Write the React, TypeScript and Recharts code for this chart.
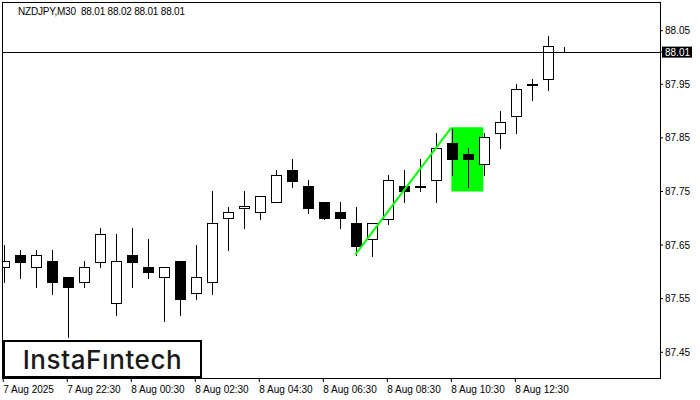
import React from "react";
import {
  ComposedChart,
  Bar,
  XAxis,
  YAxis,
  ReferenceLine,
  ReferenceArea,
} from "recharts";

// NZDJPY M30 candles, oldest first (7 Aug 20:30 .. 8 Aug 14:00)
const openPrices = [
  87.61, 87.632, 87.61, 87.62, 87.59, 87.581, 87.619, 87.541, 87.632, 87.61,
  87.59, 87.62, 87.56, 87.581, 87.7, 87.72, 87.711, 87.73, 87.79, 87.76,
  87.73, 87.711, 87.691, 87.661, 87.699, 87.76, 87.759, 87.771, 87.84, 87.82,
  87.801, 87.86, 87.89, 87.949, 87.959, 88.01,
];
const highPrices = [
  87.65, 87.641, 87.641, 87.641, 87.59, 87.62, 87.681, 87.67, 87.681, 87.661,
  87.61, 87.62, 87.65, 87.751, 87.721, 87.751, 87.741, 87.79, 87.811, 87.771,
  87.73, 87.73, 87.721, 87.691, 87.781, 87.79, 87.811, 87.86, 87.867, 87.831,
  87.86, 87.9, 87.95, 87.959, 88.04, 88.02,
];
const lowPrices = [
  87.581, 87.589, 87.571, 87.559, 87.479, 87.571, 87.61, 87.52, 87.571, 87.589,
  87.509, 87.52, 87.55, 87.559, 87.64, 87.681, 87.699, 87.73, 87.759, 87.71,
  87.699, 87.681, 87.632, 87.63, 87.69, 87.73, 87.75, 87.73, 87.78, 87.759,
  87.78, 87.831, 87.86, 87.92, 87.94, 88.01,
];
const closePrices = [
  87.62, 87.619, 87.631, 87.581, 87.571, 87.61, 87.67, 87.62, 87.619, 87.6,
  87.61, 87.55, 87.59, 87.691, 87.711, 87.722, 87.741, 87.78, 87.77, 87.72,
  87.7, 87.7, 87.649, 87.691, 87.771, 87.75, 87.76, 87.831, 87.81, 87.81,
  87.851, 87.88, 87.941, 87.95, 88.021, 88.01,
];

const timeTickIndex = [0, 4, 8, 12, 16, 20, 24, 28, 32];
const timeTickLabels = [
  "7 Aug 2025",
  "7 Aug 22:30",
  "8 Aug 00:30",
  "8 Aug 02:30",
  "8 Aug 04:30",
  "8 Aug 06:30",
  "8 Aug 08:30",
  "8 Aug 10:30",
  "8 Aug 12:30",
];
const priceTicks = [87.45, 87.55, 87.65, 87.75, 87.85, 87.95, 88.05];
const lastPrice = 88.01;
const titleText = "NZDJPY,M30  88.01 88.02 88.01 88.01";

// flag pattern: pole from candle 22 low to candle 28 high, flag box 28..30
const poleStart = { index: 22, price: 87.632 };
const poleEnd = { index: 28, price: 87.869 };
const flagBox = { from: 28, to: 30, low: 87.75, high: 87.87 };

const data = openPrices.map((o, i) => ({
  k: i,
  open: o,
  high: highPrices[i],
  low: lowPrices[i],
  close: closePrices[i],
}));

const FONT = "'Liberation Sans', Arial, sans-serif";

function Candle(props: any) {
  const { x, y, width, height, payload } = props;
  if (x == null || y == null) return null;
  const { open, close, high, low } = payload;
  const h = Math.abs(height);
  const top = Math.min(y, y + height);
  const per = high === low ? 0 : h / (high - low);
  const py = (v: number) => top + (high - v) * per;
  const cx = Math.round(x + width / 2) + 0.5;
  const bTop = Math.round(py(Math.max(open, close))) + 0.5;
  const bBot = Math.round(py(Math.min(open, close))) + 0.5;
  const up = close >= open;
  return (
    <g shapeRendering="crispEdges">
      <line x1={cx} x2={cx} y1={Math.round(top)} y2={Math.round(top + h) + 1} stroke="#000" strokeWidth={1} />
      {bBot - bTop < 1 ? (
        <line x1={cx - 5} x2={cx + 5} y1={bTop} y2={bTop} stroke="#000" strokeWidth={1} />
      ) : (
        <rect
          x={cx - 5}
          y={bTop}
          width={10}
          height={bBot - bTop}
          fill={up ? "#fff" : "#000"}
          stroke="#000"
          strokeWidth={1}
        />
      )}
    </g>
  );
}

function TimeTick(props: any) {
  const { x, y, payload } = props;
  const label = timeTickLabels[timeTickIndex.indexOf(payload.value)];
  return (
    <text x={x} y={y + 8.5} fontSize={10} fontFamily={FONT} fill="#000" textAnchor="start">
      {label}
    </text>
  );
}

function PriceTick(props: any) {
  const { x, y, payload } = props;
  if (payload.value === lastPrice) {
    return (
      <g>
        <rect x={x - 3} y={y - 5.5} width={30} height={11} fill="#000" />
        <text x={x} y={y + 3.5} fontSize={10} fontFamily={FONT} fill="#fff" textAnchor="start">
          {payload.value.toFixed(2)}
        </text>
      </g>
    );
  }
  return (
    <text x={x} y={y + 3.5} fontSize={10} fontFamily={FONT} fill="#000" textAnchor="start">
      {payload.value.toFixed(2)}
    </text>
  );
}

export default function App() {
  return (
    <div
      style={{
        position: "absolute",
        left: 0,
        top: 0,
        width: 700,
        height: 400,
        background: "#fff",
      }}
    >
      <ComposedChart
        width={700}
        height={400}
        data={data}
        margin={{ top: 2, right: 0, left: 2, bottom: 0 }}
      >
        <XAxis
          dataKey="k"
          type="number"
          domain={[-0.08, 41.04]}
          allowDataOverflow
          ticks={timeTickIndex}
          interval={0}
          height={22}
          axisLine={false}
          tickLine={{ stroke: "#000" }}
          tickSize={4}
          tick={<TimeTick />}
        />
        <YAxis
          orientation="right"
          type="number"
          domain={[87.402, 88.1035]}
          allowDataOverflow
          ticks={[...priceTicks, lastPrice]}
          interval={0}
          width={40}
          axisLine={false}
          tickLine={{ stroke: "#000" }}
          tickSize={3}
          tick={<PriceTick />}
        />
        <ReferenceArea
          x1={flagBox.from}
          x2={flagBox.to}
          y1={flagBox.low}
          y2={flagBox.high}
          fill="#00ff00"
          fillOpacity={1}
          stroke="none"
        />
        <ReferenceLine
          y={lastPrice}
          stroke="#000"
          strokeWidth={1}
          shapeRendering="crispEdges"
        />
        <Bar
          dataKey={(d: any) => [d.low, d.high]}
          barSize={11}
          shape={<Candle />}
          isAnimationActive={false}
        />
        <ReferenceLine
          segment={[
            { x: poleStart.index, y: poleStart.price },
            { x: poleEnd.index, y: poleEnd.price },
          ]}
          stroke="#00ff00"
          strokeWidth={2}
        />
      </ComposedChart>
      <div
        style={{
          position: "absolute",
          left: 2,
          top: 2,
          width: 659,
          height: 377,
          boxSizing: "border-box",
          border: "1px solid #000",
          pointerEvents: "none",
        }}
      />
      <div
        style={{
          position: "absolute",
          left: 18,
          top: 6,
          fontFamily: FONT,
          fontSize: 10,
          color: "#000",
          whiteSpace: "pre",
          letterSpacing: -0.2,
        }}
      >
        {titleText}
      </div>
      <div
        style={{
          position: "absolute",
          left: 3,
          top: 340,
          width: 199,
          height: 38,
          boxSizing: "border-box",
          border: "2px solid #000",
          background: "#fff",
          display: "flex",
          alignItems: "center",
          justifyContent: "center",
          fontFamily: "Inter, 'Noto Sans', sans-serif",
          fontWeight: 500,
          fontSize: 26,
          color: "#1a1a1a",
          letterSpacing: 0.6,
        }}
      >
        InstaFıntech
      </div>
    </div>
  );
}
